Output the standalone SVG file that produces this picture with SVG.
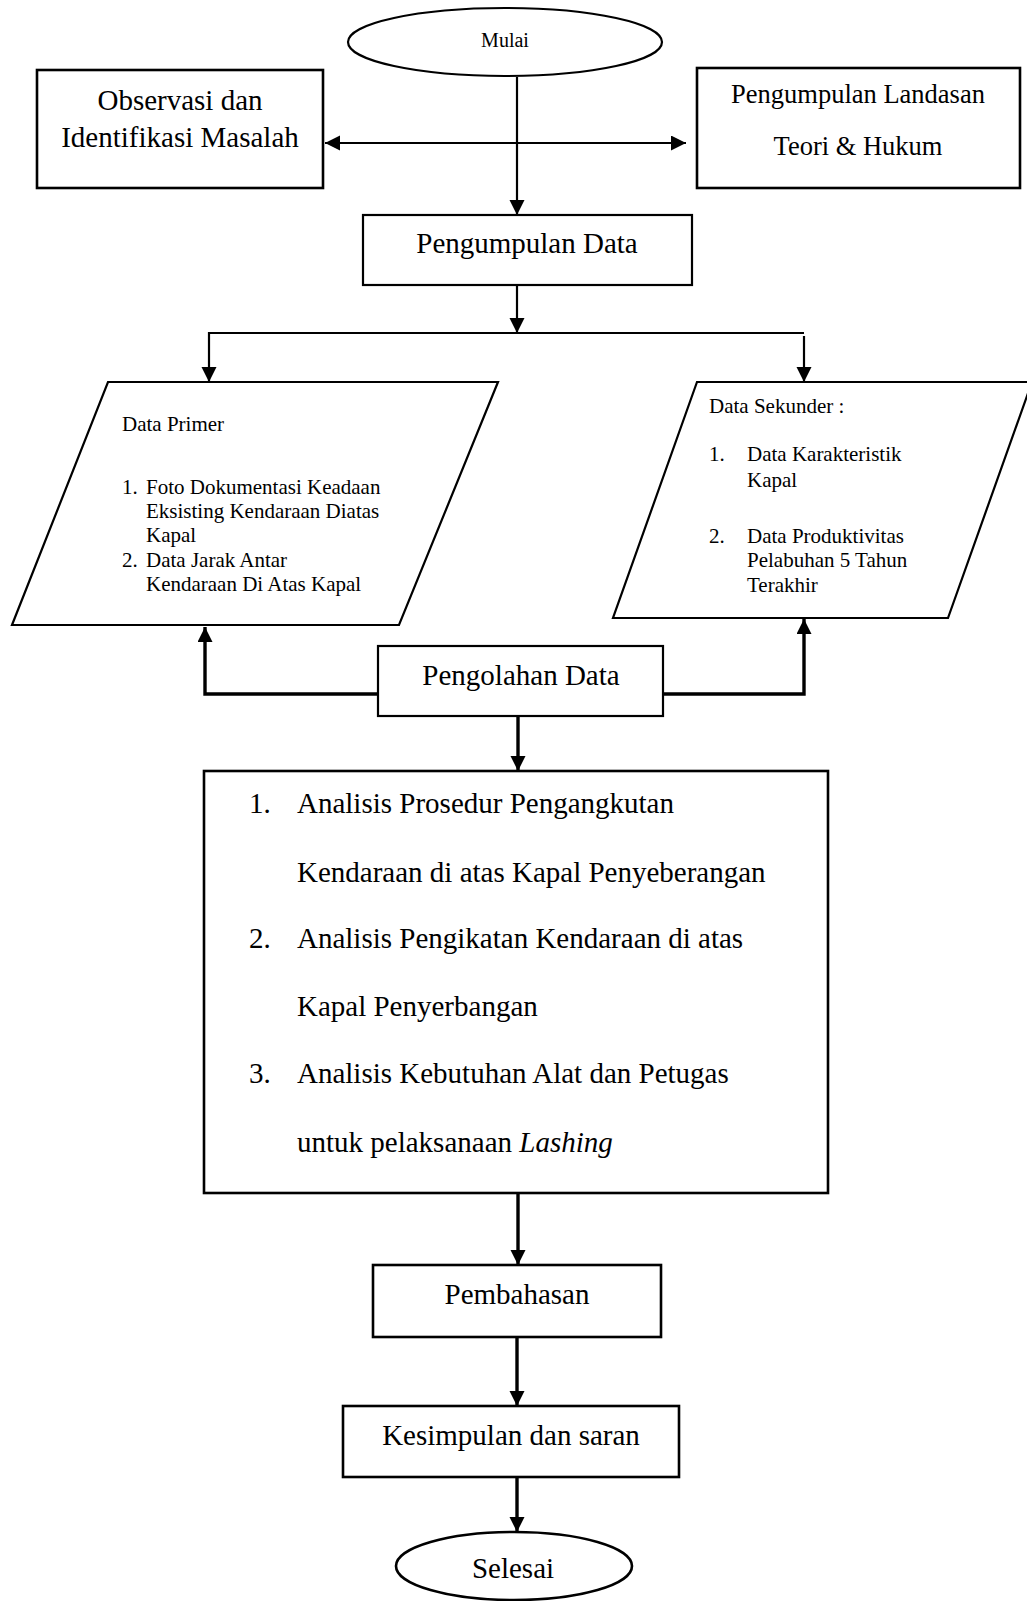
<svg xmlns="http://www.w3.org/2000/svg" width="1027" height="1601" viewBox="0 0 1027 1601">
<style>
text{font-family:"Liberation Serif","Times New Roman",serif;fill:#000}
.shape{fill:#fff;stroke:#000;stroke-width:2.2}
.thick{stroke-width:2.6}
.c{text-anchor:middle}
.l29{font-size:29px}
.l26{font-size:26.5px}
.l21{font-size:21px}
.l20{font-size:20px}
.conn{fill:none;stroke:#000;stroke-width:2.2}
.conn3{fill:none;stroke:#000;stroke-width:3.4}
</style>
<defs>
<marker id="ah" markerUnits="userSpaceOnUse" markerWidth="16" markerHeight="16" refX="15" refY="7.5" orient="auto-start-reverse" viewBox="0 0 16 16">
<path d="M0,0 L15,7.5 L0,15 z" fill="#000"/>
</marker>
</defs>
<rect width="1027" height="1601" fill="#fff"/>
<g id="connectors">
<line class="conn" x1="325" y1="143" x2="686" y2="143" marker-start="url(#ah)" marker-end="url(#ah)"/>
<line class="conn" x1="517" y1="77" x2="517" y2="215" marker-end="url(#ah)"/>
<line class="conn" x1="517" y1="285" x2="517" y2="333" marker-end="url(#ah)"/>
<line class="conn" x1="209" y1="333" x2="804" y2="333"/>
<line class="conn" x1="209" y1="332" x2="209" y2="382" marker-end="url(#ah)"/>
<line class="conn" x1="804" y1="336" x2="804" y2="382" marker-end="url(#ah)"/>
<polyline class="conn3" points="378,694 205,694 205,627" marker-end="url(#ah)"/>
<polyline class="conn3" points="663,694 804,694 804,619" marker-end="url(#ah)"/>
<line class="conn3" x1="518" y1="716" x2="518" y2="771" marker-end="url(#ah)"/>
<line class="conn3" x1="518" y1="1193" x2="518" y2="1265" marker-end="url(#ah)"/>
<line class="conn3" x1="517" y1="1337" x2="517" y2="1406" marker-end="url(#ah)"/>
<line class="conn3" x1="517" y1="1477" x2="517" y2="1532" marker-end="url(#ah)"/>
</g>
<g id="mulai">
<ellipse class="shape" cx="505" cy="42" rx="157" ry="34"/>
<text class="c l20" x="505" y="47">Mulai</text>
</g>
<g id="observasi">
<rect class="shape thick" x="37" y="70" width="286" height="118"/>
<text class="c l29" x="180" y="110">Observasi dan</text>
<text class="c l29" x="180" y="147">Identifikasi Masalah</text>
</g>
<g id="landasan">
<rect class="shape thick" x="697" y="68" width="323" height="120"/>
<text class="c l26" x="858" y="103">Pengumpulan Landasan</text>
<text class="c l26" x="858" y="155">Teori &amp; Hukum</text>
</g>
<g id="pengumpulan-data">
<rect class="shape" x="363" y="215" width="329" height="70"/>
<text class="c l29" x="527" y="253">Pengumpulan Data</text>
</g>
<g id="data-primer">
<polygon class="shape" points="108,382 498,382 399,625 12,625"/>
<text class="l21" x="122" y="431">Data Primer</text>
<text class="l21" x="122" y="494">1.</text>
<text class="l21" x="146" y="494">Foto Dokumentasi Keadaan</text>
<text class="l21" x="146" y="518">Eksisting Kendaraan Diatas</text>
<text class="l21" x="146" y="542">Kapal</text>
<text class="l21" x="122" y="567">2.</text>
<text class="l21" x="146" y="567">Data Jarak Antar</text>
<text class="l21" x="146" y="591">Kendaraan Di Atas Kapal</text>
</g>
<g id="data-sekunder">
<polygon class="shape" points="697,382 1032,382 948,618 613,618"/>
<text class="l21" x="709" y="413">Data Sekunder :</text>
<text class="l21" x="709" y="461">1.</text>
<text class="l21" x="747" y="461">Data Karakteristik</text>
<text class="l21" x="747" y="487">Kapal</text>
<text class="l21" x="709" y="543">2.</text>
<text class="l21" x="747" y="543">Data Produktivitas</text>
<text class="l21" x="747" y="567">Pelabuhan 5 Tahun</text>
<text class="l21" x="747" y="592">Terakhir</text>
</g>
<g id="pengolahan-data">
<rect class="shape" x="378" y="646" width="285" height="70"/>
<text class="c l29" x="521" y="685">Pengolahan Data</text>
</g>
<g id="analisis">
<rect class="shape thick" x="204" y="771" width="624" height="422"/>
<text class="l29" x="249" y="813">1.</text>
<text class="l29" x="297" y="813">Analisis Prosedur Pengangkutan</text>
<text class="l29" x="297" y="882">Kendaraan di atas Kapal Penyeberangan</text>
<text class="l29" x="249" y="948">2.</text>
<text class="l29" x="297" y="948">Analisis Pengikatan Kendaraan di atas</text>
<text class="l29" x="297" y="1016">Kapal Penyerbangan</text>
<text class="l29" x="249" y="1083">3.</text>
<text class="l29" x="297" y="1083">Analisis Kebutuhan Alat dan Petugas</text>
<text class="l29" x="297" y="1152">untuk pelaksanaan <tspan font-style="italic">Lashing</tspan></text>
</g>
<g id="pembahasan">
<rect class="shape thick" x="373" y="1265" width="288" height="72"/>
<text class="c l29" x="517" y="1304">Pembahasan</text>
</g>
<g id="kesimpulan">
<rect class="shape thick" x="343" y="1406" width="336" height="71"/>
<text class="c l29" x="511" y="1445">Kesimpulan dan saran</text>
</g>
<g id="selesai">
<ellipse class="shape thick" cx="514" cy="1566" rx="118" ry="34"/>
<text class="c l29" x="513" y="1578">Selesai</text>
</g>
</svg>
